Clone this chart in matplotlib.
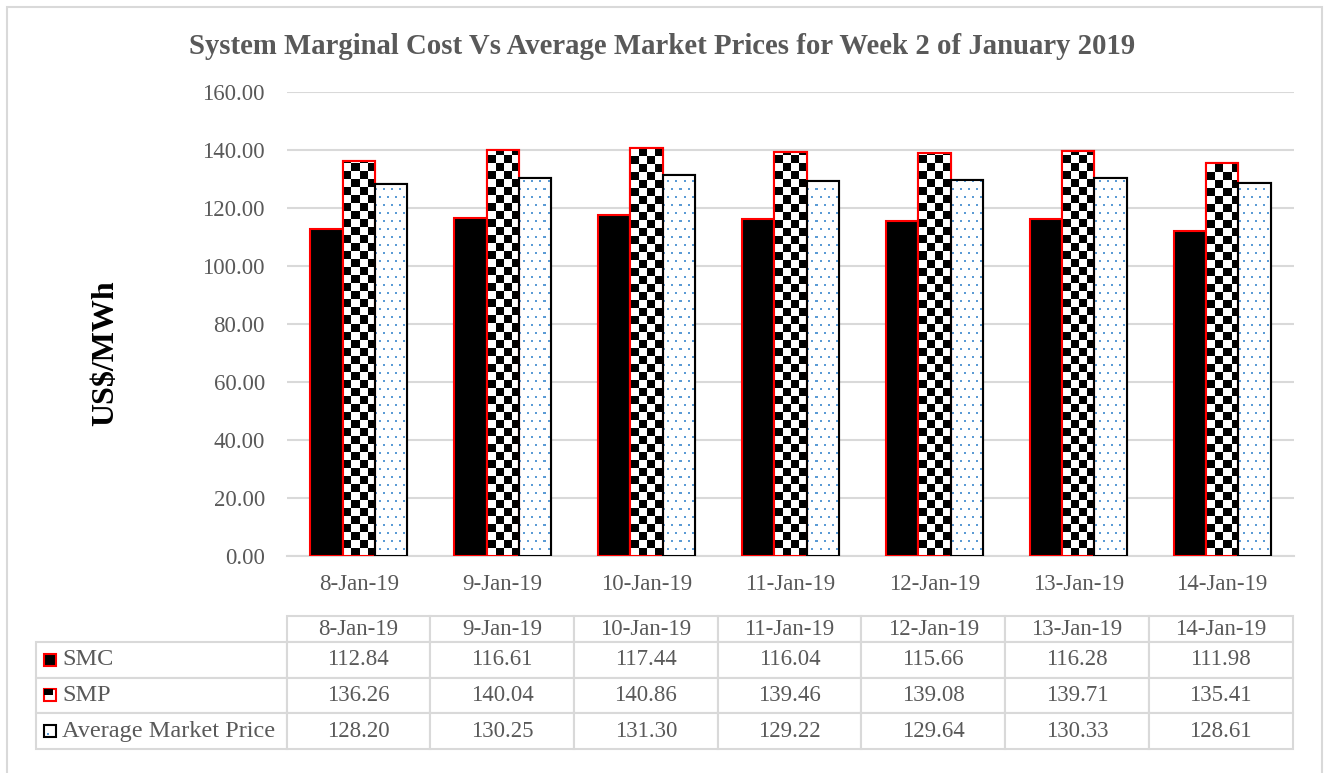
import numpy as np
import matplotlib
matplotlib.use("Agg")
import matplotlib.pyplot as plt
from matplotlib.patches import Rectangle

plt.rcParams['font.family'] = ['Liberation Serif', 'DejaVu Serif']

dates = ['8-Jan-19', '9-Jan-19', '10-Jan-19', '11-Jan-19', '12-Jan-19', '13-Jan-19', '14-Jan-19']
smc = [112.84, 116.61, 117.44, 116.04, 115.66, 116.28, 111.98]
smp = [136.26, 140.04, 140.86, 139.46, 139.08, 139.71, 135.41]
amp = [128.20, 130.25, 131.30, 129.22, 129.64, 130.33, 128.61]
series_names = ['SMC', 'SMP', 'Average Market Price']
yticks = [0, 20, 40, 60, 80, 100, 120, 140, 160]

GREY = '#595959'
LIGHT = '#D9D9D9'
W, H = 1325, 773

fig = plt.figure(figsize=(W / 100, H / 100), dpi=100)
ax_l, ax_r, ax_t, ax_b = 287, 1294, 92, 556
ax = fig.add_axes([ax_l / W, 1 - ax_b / H, (ax_r - ax_l) / W, (ax_b - ax_t) / H])

x = np.arange(len(dates))
bw = 0.225
b1 = ax.bar(x - bw, smc, bw, color='black', edgecolor='red', linewidth=1.5, zorder=3)
b2 = ax.bar(x, smp, bw, color='white', edgecolor='red', linewidth=1.5, zorder=3)
b3 = ax.bar(x + bw, amp, bw, color='white', edgecolor='black', linewidth=1.5, zorder=3)

# pixel patterns for the fills (checkerboard and blue dots)
npx_x, npx_y = ax_r - ax_l, ax_b - ax_t
yy, xx = np.mgrid[0:npx_y, 0:npx_x]
checker = ((yy // 8 + xx // 8) % 2).astype(float)
chk_img = np.dstack([1 - checker] * 3)
shift = np.where((yy // 8) % 2 == 1, 4, 0)
dots = ((((xx + shift) % 8) < 2) & ((yy % 8) < 2))
dot_img = np.ones((npx_y, npx_x, 3))
dot_img[dots] = [0x5B / 255, 0x9B / 255, 0xD5 / 255]

ext = (-0.5, len(dates) - 0.5, 0, 160)
for bars, img in [(b2, chk_img), (b3, dot_img)]:
    for p in bars:
        im = ax.imshow(img, extent=ext, aspect='auto', interpolation='nearest', zorder=3.5)
        im.set_clip_path(p)
# redraw the outlines on top of the patterns
for bars, ec in [(b2, 'red'), (b3, 'black')]:
    for p in bars:
        ax.add_patch(Rectangle(p.get_xy(), p.get_width(), p.get_height(), fill=False,
                               edgecolor=ec, linewidth=1.5, zorder=4))

ax.set_xlim(-0.5, len(dates) - 0.5)
ax.set_ylim(0, 160)
ax.set_yticks(yticks)
ax.set_yticklabels([f'{v:.2f}' for v in yticks])
ax.set_xticks(x)
ax.set_xticklabels(dates)
ax.tick_params(axis='both', length=0, colors=GREY, labelsize=16.5)
ax.tick_params(axis='y', pad=16)
ax.tick_params(axis='x', pad=13)
ax.grid(axis='y', color=LIGHT, linewidth=1.5, zorder=0)
ax.set_axisbelow(True)
for s in ['top', 'right', 'left']:
    ax.spines[s].set_visible(False)
ax.spines['bottom'].set_color(LIGHT)
ax.spines['bottom'].set_linewidth(1.5)

ax.set_ylabel('US$/MWh', fontsize=23, fontweight='bold', color='black')
ax.yaxis.set_label_coords(-0.166, (ax_b - 353) / (ax_b - ax_t))

fig.text(0.5, 1 - 46 / H, 'System Marginal Cost Vs Average Market Prices for Week 2 of January 2019',
         ha='center', va='center', fontsize=20.7, fontweight='bold', color=GREY)

# data table under the chart (bbox covers the data cells; row labels hang to the left)
cell_text = [[f'{v:.2f}' for v in s] for s in (smc, smp, amp)]
axw = ax_r - ax_l
tb = ax.table(cellText=cell_text, rowLabels=series_names, colLabels=dates,
              cellLoc='center', rowLoc='left',
              bbox=[0, (ax_b - 749) / npx_y, (1293 - ax_l) / axw, (749 - 616) / npx_y])
tb.auto_set_font_size(False)
tb._autoColumns = []  # keep the label column at a fixed width
for (r, c), cell in tb.get_celld().items():
    cell.set_edgecolor(LIGHT)
    cell.set_linewidth(1.5)
    cell.get_text().set_color(GREY)
    cell.get_text().set_fontsize(16.5)
    cell.set_height((26 if r == 0 else 35.5) / npx_y)
    cell.set_width(144 / axw)
    if c == -1:
        cell.set_width(251 / axw)
        cell.PAD = 26 / 251
        cell.get_text().set_fontsize(17.5)

# legend keys inside the row label cells
key_y = [660, 695, 731]
key_style = [('black', 'red'), ('white', 'red'), ('white', 'black')]
for ky, (fc, ec) in zip(key_y, key_style):
    fig.patches.append(Rectangle((44 / W, 1 - (ky + 6) / H), 12 / W, 12 / H, transform=fig.transFigure,
                                 facecolor=fc, edgecolor=ec, linewidth=1.5))
fig.patches.append(Rectangle((44 / W, 1 - 695 / H), 9 / W, 6 / H, transform=fig.transFigure,
                             facecolor='black', edgecolor='none'))
fig.patches.append(Rectangle((47 / W, 1 - 735 / H), 2 / W, 2 / H, transform=fig.transFigure,
                             facecolor='#5B9BD5', edgecolor='none'))

# outer chart border
fig.patches.append(Rectangle((7 / W, -0.1), (1322 - 7) / W, 1.1 - 7 / H, transform=fig.transFigure,
                             fill=False, edgecolor=LIGHT, linewidth=1.5))

fig.savefig('out.png', dpi=100)
